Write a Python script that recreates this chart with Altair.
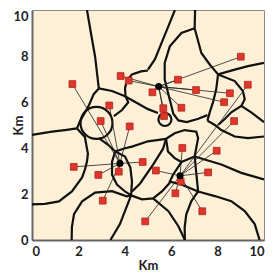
import altair as alt
import pandas as pd

# ---- data (Km) ----
sq_x = [1.74, 3.82, 4.17, 3.33, 2.96, 4.21, 9.00, 6.29, 5.19, 7.07, 8.53, 8.28, 9.30, 5.66, 6.44,
        5.69, 8.71, 1.80, 4.77, 2.86, 3.74, 3.05, 4.88, 6.48, 7.96, 5.34, 7.59, 6.41, 6.18, 7.34]
sq_y = [6.78, 7.13, 6.93, 5.85, 5.17, 4.94, 7.97, 6.97, 6.42, 6.52, 6.38, 5.99, 6.75, 5.73, 5.75,
        5.39, 5.17, 3.18, 3.39, 2.83, 2.97, 1.71, 0.81, 4.00, 3.88, 3.02, 2.94, 2.54, 2.03, 1.25]
sq_center = ["A", "B", "B", "A", "A", "A", "B", "B", "B", "B", "B", "B", "C", "B", "B",
             "B", "C", "A", "A", "A", "A", "A", "C", "C", "C", "C", "C", "C", "C", "C"]

center_names = ["A", "B", "C"]
center_x = [3.79, 5.46, 6.38]
center_y = [3.33, 6.67, 2.79]

tick_values = [0, 2, 4, 6, 8, 10]

# boundary curves (x list, y list)
curves = {
    "c1": ([2.37, 2.54, 2.72, 2.88], [10.0, 9.00, 7.97, 6.59]),
    "c2": ([2.88, 3.45, 4.01, 4.60, 5.00, 5.43], [6.59, 6.48, 6.25, 5.91, 5.69, 5.52]),
    "c3": ([2.88, 2.66, 2.44, 2.24, 2.07, 1.94], [6.59, 6.34, 5.83, 5.47, 5.17, 4.85]),
    "c4": ([0.0, 0.86, 1.42, 1.94], [4.57, 4.71, 4.78, 4.85]),
    "c5": ([1.94, 2.28, 2.41, 2.37, 2.28, 2.16, 1.72, 1.16, 0.56, 0.0],
           [4.85, 4.48, 3.75, 3.41, 3.06, 2.72, 2.11, 1.68, 1.57, 1.55]),
    "c7a": ([3.59, 3.45, 3.45, 3.66, 4.01, 4.27], [3.85, 3.41, 2.84, 2.41, 2.11, 1.94]),
    "c7b": ([3.59, 4.01, 4.24, 4.31, 4.27], [3.85, 3.63, 3.15, 2.54, 1.94]),
    "c8": ([2.88, 3.28, 3.59], [4.43, 4.14, 3.85]),
    "c9": ([3.59, 4.01, 4.31, 5.00, 5.78], [3.85, 3.99, 4.06, 4.29, 4.40]),
    "c10": ([4.27, 4.74, 5.22, 5.60, 5.95], [1.94, 1.77, 1.81, 2.11, 2.50]),
    "c11": ([4.27, 3.79, 3.38], [1.94, 0.69, 0.0]),
    "c12": ([1.71, 1.72, 1.81, 2.16, 2.72, 3.45, 4.08, 4.27], [0.0, 0.56, 1.12, 1.68, 2.06, 2.12, 1.90, 1.94]),
    "c13": ([4.31, 4.66, 5.22, 5.65, 5.78], [2.11, 2.46, 3.28, 3.97, 4.40]),
    "c14a": ([7.03, 7.01], [10.0, 9.21]),
    "c14b": ([7.01, 6.44, 5.94, 5.72, 5.72, 5.86, 6.02, 6.09, 6.31, 6.67, 7.17, 7.56],
             [9.21, 9.00, 8.42, 7.70, 6.98, 6.41, 5.78, 5.49, 5.20, 5.13, 5.27, 5.43]),
    "c14c": ([7.01, 7.30, 7.66, 8.02], [9.21, 8.13, 7.63, 7.20]),
    "c14d": ([8.02, 7.94, 7.80, 7.66, 7.56], [7.20, 6.55, 5.98, 5.55, 5.19]),
    "c15": ([8.02, 8.74, 9.31, 10.0], [7.20, 7.41, 7.56, 7.70]),
    "c16": ([8.02, 8.74, 9.09, 9.17, 9.02, 8.59, 8.31, 8.02], [7.20, 6.91, 6.48, 6.12, 5.83, 5.55, 5.26, 5.00]),
    "c17": ([9.02, 9.45, 10.0], [5.83, 5.55, 5.12]),
    "c18": ([7.56, 7.88, 8.16, 8.74, 9.31, 10.0], [5.19, 5.00, 4.78, 4.50, 4.43, 4.50]),
    "c19": ([6.16, 5.88, 5.59, 5.30, 5.00], [10.0, 9.30, 8.58, 7.86, 7.41]),
    "c20": ([5.00, 4.70, 4.31, 4.09, 4.01, 4.03, 4.15, 3.88, 3.53],
            [7.37, 7.33, 7.20, 6.94, 6.59, 6.25, 5.99, 5.65, 5.39]),
    "c21": ([5.78, 6.15, 6.58, 7.08, 7.16, 7.01, 6.44, 6.15, 5.86, 5.78],
            [4.40, 4.64, 4.78, 4.71, 4.43, 3.63, 3.39, 3.56, 3.85, 4.40]),
    "c22": ([6.44, 6.08, 5.94, 6.44, 7.16, 7.01], [3.39, 2.84, 2.54, 2.41, 2.11, 3.63]),
    "c23": ([7.01, 8.16, 9.02, 10.0], [3.63, 3.28, 2.92, 2.63]),
    "c24": ([7.16, 7.88, 8.59, 9.17, 9.60, 9.81], [2.11, 1.91, 1.69, 1.26, 0.69, 0.0]),
    "c25": ([7.16, 6.87, 6.65, 6.58, 6.59], [2.11, 1.69, 1.12, 0.55, 0.0]),
    "c26": ([5.22, 5.88, 6.31, 6.59], [1.81, 1.25, 0.60, 0.0]),
}

# closed small circles (center x, center y) and symbol areas
ring_x = [2.78, 5.73]
ring_y = [5.09, 5.24]
ring_size = [1024, 169]

# ---- tables ----
rows = []
for cid, (xs_, ys_) in curves.items():
    for i, (a, b) in enumerate(zip(xs_, ys_)):
        rows.append({"id": cid, "o": i, "x": a, "y": b})
curve_df = pd.DataFrame(rows)

cmap = dict(zip(center_names, zip(center_x, center_y)))
sq_df = pd.DataFrame({"x": sq_x, "y": sq_y, "c": sq_center})
sq_df["cx"] = [cmap[c][0] for c in sq_center]
sq_df["cy"] = [cmap[c][1] for c in sq_center]
cen_df = pd.DataFrame({"x": center_x, "y": center_y})
ring_df = pd.DataFrame({"x": ring_x, "y": ring_y, "s": ring_size})

xs = alt.Scale(domain=[0, 10], nice=False)
ys = alt.Scale(domain=[0, 10], nice=False)
xax = alt.Axis(values=tick_values, ticks=False, grid=False, labelPadding=5,
               titlePadding=1, format="d")
yax = alt.Axis(values=tick_values, ticks=False, grid=False, labelPadding=4,
               titleX=-7, format="d",
               labelBaseline=alt.condition("datum.value == 10", alt.value("top"), alt.value("middle")))

curves_layer = alt.Chart(curve_df).mark_line(color="#111", strokeWidth=2.2, clip=True).encode(
    x=alt.X("x:Q", scale=xs, axis=xax, title="Km"),
    y=alt.Y("y:Q", scale=ys, axis=yax, title="Km"),
    detail="id:N",
    order="o:Q",
)

rings = alt.Chart(ring_df).mark_point(shape="circle", filled=False, color="#111", strokeWidth=2.2, opacity=1).encode(
    x=alt.X("x:Q", scale=xs),
    y=alt.Y("y:Q", scale=ys),
    size=alt.Size("s:Q", scale=None, legend=None),
)

spokes = alt.Chart(sq_df).mark_rule(color="#222", strokeWidth=0.8).encode(
    x=alt.X("x:Q", scale=xs), y=alt.Y("y:Q", scale=ys), x2="cx:Q", y2="cy:Q"
)

squares = alt.Chart(sq_df).mark_point(shape="square", filled=True, size=46, color="#e2342a",
                                       stroke="#a8281e", strokeWidth=0.8, opacity=1).encode(
    x=alt.X("x:Q", scale=xs), y=alt.Y("y:Q", scale=ys)
)

centers = alt.Chart(cen_df).mark_point(shape="circle", filled=True, size=50, color="#000", opacity=1).encode(
    x=alt.X("x:Q", scale=xs), y=alt.Y("y:Q", scale=ys)
)

chart = alt.layer(curves_layer, rings, spokes, squares, centers).properties(
    width=232, height=230,
    autosize=alt.AutoSizeParams(type="none"),
    padding={"left": 24, "top": 2, "right": 3, "bottom": 35},
).configure_view(
    fill="#fdf0d6", stroke="#888", strokeWidth=1
).configure_axis(
    domainColor="#666", domainWidth=2,
    labelFont="Lato", labelFontSize=13, labelFontWeight="bold", labelColor="#222",
    titleFont="Lato", titleFontSize=13, titleFontWeight="bold", titleColor="#222",
)

chart.save("out.html", embed_options={"renderer": "svg", "actions": False})
